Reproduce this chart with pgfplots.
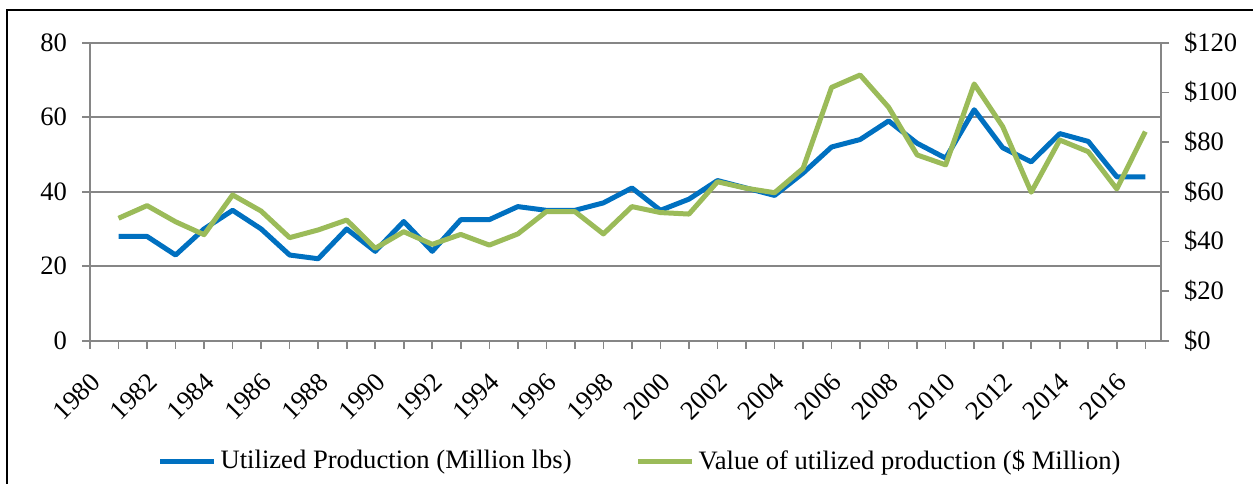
\documentclass[border=0pt]{standalone}
\usepackage{fontspec}
\setmainfont{Liberation Serif}
\usepackage{pgfplots}
\pgfplotsset{compat=1.18}
\definecolor{xblue}{RGB}{0,112,192}
\definecolor{xgreen}{RGB}{155,187,89}
\definecolor{xgray}{RGB}{134,134,134}
\begin{document}
\begin{tikzpicture}
\useasboundingbox (0pt,0pt) rectangle (626.5pt,241.5pt);
\draw[black,line width=1pt] (3.5pt,-2pt) -- (3.5pt,236.5pt) -- (630pt,236.5pt);
\pgfplotsset{
  common/.style={
    scale only axis, width=535.5pt, height=149pt,
    at={(45pt,71.15pt)}, anchor=south west,
    xmin=1980, xmax=2017.55,
    /pgf/number format/assume math mode=true,
    tick label style={font=\fontsize{13.3}{15}\selectfont, black},
    tick align=outside,
    major tick length=4pt, minor tick length=4pt,
    every tick/.style={xgray, line width=0.8pt},
    axis line style={xgray, line width=0.8pt},
    line join=round,
  }
}
\begin{axis}[common,
  axis x line*=bottom, axis y line*=left,
  ymin=0, ymax=80, ytick={0,20,40,60,80},
  yticklabel style={xshift=-4pt},
  ymajorgrids, grid style={xgray, line width=0.8pt},
  xtick={1980,1982,...,2016},
  minor xtick={1981,1983,...,2017},
  xticklabel style={xshift=-0.5pt, yshift=-11pt, rotate=45, anchor=north east, inner sep=0pt},
  xticklabels={1980,1982,1984,1986,1988,1990,1992,1994,1996,1998,2000,2002,2004,2006,2008,2010,2012,2014,2016},
  ]
\addplot[xblue, line width=2.5pt] coordinates {
(1981,28) (1982,28) (1983,23) (1984,30) (1985,35) (1986,30) (1987,23) (1988,22)
(1989,30) (1990,24) (1991,32) (1992,24) (1993,32.5) (1994,32.5) (1995,36) (1996,35)
(1997,35) (1998,37) (1999,41) (2000,35) (2001,38) (2002,43) (2003,41) (2004,39)
(2005,45) (2006,52) (2007,54) (2008,59) (2009,53) (2010,49) (2011,62) (2012,51.8)
(2013,48) (2014,55.6) (2015,53.5) (2016,44) (2017,44)
};
\end{axis}
\begin{axis}[common,
  axis x line=none, axis y line*=right,
  ymin=0, ymax=120, ytick={0,20,40,60,80,100,120},
  yticklabel style={xshift=4pt},
  yticklabels={\$0,\$20,\$40,\$60,\$80,\$100,\$120},
  legend style={at={(0.5145,-0.404)}, anchor=center, draw=none, fill=none,
    legend columns=2, font=\fontsize{13.3}{15}\selectfont,
    /tikz/every even column/.append style={column sep=30pt},
    legend cell align=left},
  legend image code/.code={\draw[#1] (0pt,0pt) -- (27pt,0pt);},
  ]
\addlegendimage{xblue, line width=2.5pt}
\addlegendentry{Utilized Production (Million lbs)}
\addplot[xgreen, line width=2.5pt] coordinates {
(1981,49.3) (1982,54.4) (1983,47.9) (1984,42.7) (1985,58.7) (1986,52.2) (1987,41.5) (1988,44.6)
(1989,48.6) (1990,37.2) (1991,43.9) (1992,38.8) (1993,42.8) (1994,38.5) (1995,43) (1996,52)
(1997,52) (1998,43) (1999,54) (2000,51.6) (2001,51) (2002,64) (2003,61.4) (2004,59.6)
(2005,69.4) (2006,102) (2007,107) (2008,94) (2009,74.8) (2010,70.8) (2011,103.4) (2012,86.2)
(2013,59.8) (2014,80.8) (2015,76.1) (2016,61.1) (2017,84.2)
};
\addlegendentry{Value of utilized production (\$ Million)}
\end{axis}
\end{tikzpicture}
\end{document}
